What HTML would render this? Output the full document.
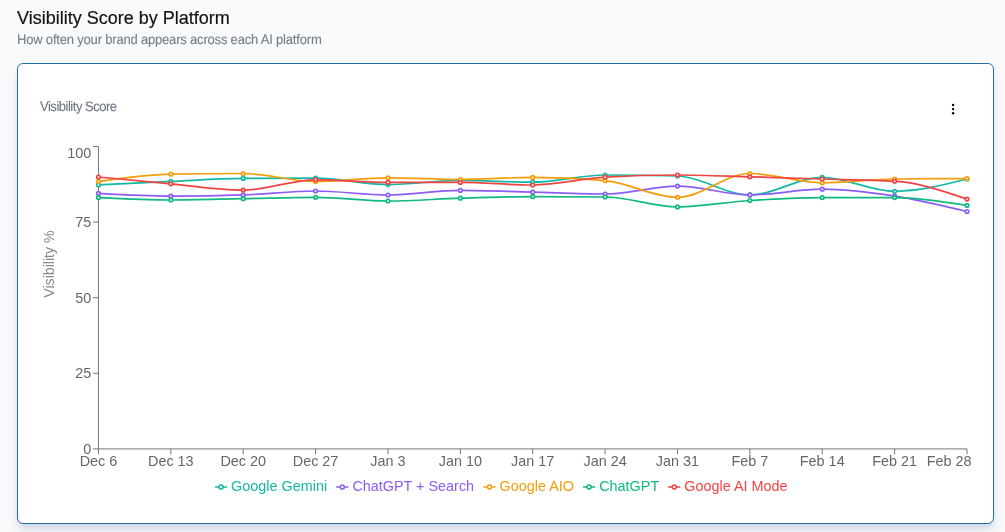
<!DOCTYPE html>
<html lang="en"><head><meta charset="utf-8"><title>Visibility Score by Platform</title>
<style>
html,body{margin:0;padding:0}
body{width:1005px;height:532px;overflow:hidden;background:#f9fafb;font-family:"Liberation Sans",Arial,sans-serif;position:relative}
.title{position:absolute;left:17px;top:7px;font-size:18px;line-height:22px;color:#141414;white-space:nowrap;margin:0;font-weight:400;letter-spacing:0px;-webkit-text-stroke:0.2px currentColor}
.sub{position:absolute;left:17px;top:32.153px;font-size:13.7px;line-height:16px;color:#767c88;white-space:nowrap;margin:0;letter-spacing:-0.2px;-webkit-text-stroke:0.1px currentColor;text-rendering:geometricPrecision;transform:scale(0.95,1.0);transform-origin:0 12.747px}
.card{position:absolute;left:17px;top:63px;width:975px;height:459px;border:1px solid #2471a0;border-radius:6px;background:#fff;box-shadow:0 9px 13.5px -2.7px rgba(37,64,143,0.14),0 3.6px 5.4px -1.8px rgba(37,64,143,0.10)}
.ctitle{position:absolute;left:40px;top:97.153px;font-size:13.7px;line-height:20px;color:#6e7482;white-space:nowrap;letter-spacing:-0.507px;-webkit-text-stroke:0.1px currentColor;text-rendering:geometricPrecision;transform:scale(0.95,1.0);transform-origin:0 14.747px}
svg.chart{position:absolute;left:0;top:0;width:1005px;height:532px;overflow:visible}
svg text{font-family:"Liberation Sans",Arial,sans-serif;font-size:14.4px}
</style></head><body>
<h2 class="title">Visibility Score by Platform</h2>
<p class="sub">How often your brand appears across each AI platform</p>
<div class="card"></div>
<div class="ctitle">Visibility Score</div>
<svg class="chart" width="1005" height="532" viewBox="0 0 1005 532">
<g fill="#000"><circle cx="953.10" cy="104.95" r="1.2"/><circle cx="953.10" cy="109.10" r="1.2"/><circle cx="953.10" cy="113.25" r="1.2"/></g>
<g stroke="#666" stroke-width="0.9" fill="none" shape-rendering="auto"><line x1="98.45" y1="448.90" x2="967.00" y2="448.90"/><line x1="98.45" y1="448.90" x2="98.45" y2="454.30"/><line x1="170.83" y1="448.90" x2="170.83" y2="454.30"/><line x1="243.21" y1="448.90" x2="243.21" y2="454.30"/><line x1="315.59" y1="448.90" x2="315.59" y2="454.30"/><line x1="387.97" y1="448.90" x2="387.97" y2="454.30"/><line x1="460.35" y1="448.90" x2="460.35" y2="454.30"/><line x1="532.72" y1="448.90" x2="532.72" y2="454.30"/><line x1="605.10" y1="448.90" x2="605.10" y2="454.30"/><line x1="677.48" y1="448.90" x2="677.48" y2="454.30"/><line x1="749.86" y1="448.90" x2="749.86" y2="454.30"/><line x1="822.24" y1="448.90" x2="822.24" y2="454.30"/><line x1="894.62" y1="448.90" x2="894.62" y2="454.30"/><line x1="967.00" y1="448.90" x2="967.00" y2="454.30"/><line x1="98.45" y1="146.50" x2="98.45" y2="448.90"/><line x1="93.05" y1="448.90" x2="98.45" y2="448.90"/><line x1="93.05" y1="373.30" x2="98.45" y2="373.30"/><line x1="93.05" y1="297.70" x2="98.45" y2="297.70"/><line x1="93.05" y1="222.10" x2="98.45" y2="222.10"/><line x1="93.05" y1="146.50" x2="98.45" y2="146.50"/></g>
<g fill="#666" text-anchor="middle"><text x="98.45" y="466.30">Dec 6</text><text x="170.83" y="466.30">Dec 13</text><text x="243.21" y="466.30">Dec 20</text><text x="315.59" y="466.30">Dec 27</text><text x="387.97" y="466.30">Jan 3</text><text x="460.35" y="466.30">Jan 10</text><text x="532.72" y="466.30">Jan 17</text><text x="605.10" y="466.30">Jan 24</text><text x="677.48" y="466.30">Jan 31</text><text x="749.86" y="466.30">Feb 7</text><text x="822.24" y="466.30">Feb 14</text><text x="894.62" y="466.30">Feb 21</text><text x="971.60" y="466.30" text-anchor="end">Feb 28</text></g>
<g fill="#666" text-anchor="end"><text x="91.25" y="454.01">0</text><text x="91.25" y="378.41">25</text><text x="91.25" y="302.81">50</text><text x="91.25" y="227.21">75</text><text x="91.25" y="157.90">100</text></g>
<text transform="rotate(-90 53.75 297.70)" x="53.75" y="297.70" fill="#888" style="font-size:14.13px">Visibility %</text>
<g stroke="#14b8a6" stroke-width="1.7" fill="none"><path d="M98.45,184.90C122.58,183.69,146.70,182.48,170.83,181.40C194.96,180.32,219.08,178.53,243.21,178.40C267.33,178.27,291.46,178.20,315.59,178.20C339.71,178.20,363.84,184.60,387.97,184.60C412.09,184.60,436.22,180.40,460.35,180.40C484.47,180.40,508.60,182.20,532.72,182.20C556.85,182.20,580.98,175.00,605.10,175.00C629.23,175.00,653.36,175.33,677.48,176.00C701.61,176.67,725.74,194.90,749.86,194.90C773.99,194.90,798.12,177.40,822.24,177.40C846.37,177.40,870.49,191.30,894.62,191.30C918.75,191.30,942.87,185.15,967.00,179.00" stroke-linejoin="round" stroke-linecap="butt"/><g fill="#fff" stroke-width="1.7"><circle cx="98.45" cy="184.90" r="1.75"/><circle cx="170.83" cy="181.40" r="1.75"/><circle cx="243.21" cy="178.40" r="1.75"/><circle cx="315.59" cy="178.20" r="1.75"/><circle cx="387.97" cy="184.60" r="1.75"/><circle cx="460.35" cy="180.40" r="1.75"/><circle cx="532.72" cy="182.20" r="1.75"/><circle cx="605.10" cy="175.00" r="1.75"/><circle cx="677.48" cy="176.00" r="1.75"/><circle cx="749.86" cy="194.90" r="1.75"/><circle cx="822.24" cy="177.40" r="1.75"/><circle cx="894.62" cy="191.30" r="1.75"/><circle cx="967.00" cy="179.00" r="1.75"/></g></g>
<g stroke="#8b5cf6" stroke-width="1.7" fill="none"><path d="M98.45,193.40C122.58,194.75,146.70,196.10,170.83,196.10C194.96,196.10,219.08,195.70,243.21,194.90C267.33,194.10,291.46,191.00,315.59,191.00C339.71,191.00,363.84,195.00,387.97,195.00C412.09,195.00,436.22,190.40,460.35,190.40C484.47,190.40,508.60,191.60,532.72,192.20C556.85,192.80,580.98,194.00,605.10,194.00C629.23,194.00,653.36,186.10,677.48,186.10C701.61,186.10,725.74,194.90,749.86,194.90C773.99,194.90,798.12,189.20,822.24,189.20C846.37,189.20,870.49,192.38,894.62,196.10C918.75,199.82,942.87,205.66,967.00,211.50" stroke-linejoin="round" stroke-linecap="butt"/><g fill="#fff" stroke-width="1.7"><circle cx="98.45" cy="193.40" r="1.75"/><circle cx="170.83" cy="196.10" r="1.75"/><circle cx="243.21" cy="194.90" r="1.75"/><circle cx="315.59" cy="191.00" r="1.75"/><circle cx="387.97" cy="195.00" r="1.75"/><circle cx="460.35" cy="190.40" r="1.75"/><circle cx="532.72" cy="192.20" r="1.75"/><circle cx="605.10" cy="194.00" r="1.75"/><circle cx="677.48" cy="186.10" r="1.75"/><circle cx="749.86" cy="194.90" r="1.75"/><circle cx="822.24" cy="189.20" r="1.75"/><circle cx="894.62" cy="196.10" r="1.75"/><circle cx="967.00" cy="211.50" r="1.75"/></g></g>
<g stroke="#f59e0b" stroke-width="1.7" fill="none"><path d="M98.45,181.60C122.58,178.13,146.70,174.67,170.83,174.20C194.96,173.73,219.08,173.50,243.21,173.50C267.33,173.50,291.46,181.50,315.59,181.50C339.71,181.50,363.84,177.80,387.97,177.80C412.09,177.80,436.22,179.50,460.35,179.50C484.47,179.50,508.60,177.40,532.72,177.40C556.85,177.40,580.98,178.50,605.10,180.70C629.23,182.90,653.36,197.30,677.48,197.30C701.61,197.30,725.74,173.50,749.86,173.50C773.99,173.50,798.12,182.80,822.24,182.80C846.37,182.80,870.49,179.27,894.62,179.00C918.75,178.73,942.87,178.67,967.00,178.60" stroke-linejoin="round" stroke-linecap="butt"/><g fill="#fff" stroke-width="1.7"><circle cx="98.45" cy="181.60" r="1.75"/><circle cx="170.83" cy="174.20" r="1.75"/><circle cx="243.21" cy="173.50" r="1.75"/><circle cx="315.59" cy="181.50" r="1.75"/><circle cx="387.97" cy="177.80" r="1.75"/><circle cx="460.35" cy="179.50" r="1.75"/><circle cx="532.72" cy="177.40" r="1.75"/><circle cx="605.10" cy="180.70" r="1.75"/><circle cx="677.48" cy="197.30" r="1.75"/><circle cx="749.86" cy="173.50" r="1.75"/><circle cx="822.24" cy="182.80" r="1.75"/><circle cx="894.62" cy="179.00" r="1.75"/><circle cx="967.00" cy="178.60" r="1.75"/></g></g>
<g stroke="#10b981" stroke-width="1.7" fill="none"><path d="M98.45,197.60C122.58,198.80,146.70,200.00,170.83,200.00C194.96,200.00,219.08,199.15,243.21,198.70C267.33,198.25,291.46,197.30,315.59,197.30C339.71,197.30,363.84,201.00,387.97,201.00C412.09,201.00,436.22,198.92,460.35,198.20C484.47,197.48,508.60,196.70,532.72,196.70C556.85,196.70,580.98,196.80,605.10,197.00C629.23,197.20,653.36,206.90,677.48,206.90C701.61,206.90,725.74,202.05,749.86,200.50C773.99,198.95,798.12,197.60,822.24,197.60C846.37,197.60,870.49,197.60,894.62,197.60C918.75,197.60,942.87,201.50,967.00,205.40" stroke-linejoin="round" stroke-linecap="butt"/><g fill="#fff" stroke-width="1.7"><circle cx="98.45" cy="197.60" r="1.75"/><circle cx="170.83" cy="200.00" r="1.75"/><circle cx="243.21" cy="198.70" r="1.75"/><circle cx="315.59" cy="197.30" r="1.75"/><circle cx="387.97" cy="201.00" r="1.75"/><circle cx="460.35" cy="198.20" r="1.75"/><circle cx="532.72" cy="196.70" r="1.75"/><circle cx="605.10" cy="197.00" r="1.75"/><circle cx="677.48" cy="206.90" r="1.75"/><circle cx="749.86" cy="200.50" r="1.75"/><circle cx="822.24" cy="197.60" r="1.75"/><circle cx="894.62" cy="197.60" r="1.75"/><circle cx="967.00" cy="205.40" r="1.75"/></g></g>
<g stroke="#ef4444" stroke-width="1.7" fill="none"><path d="M98.45,177.00C122.58,179.31,146.70,181.62,170.83,183.80C194.96,185.98,219.08,190.10,243.21,190.10C267.33,190.10,291.46,179.80,315.59,179.80C339.71,179.80,363.84,182.40,387.97,182.40C412.09,182.40,436.22,182.40,460.35,182.40C484.47,182.40,508.60,185.00,532.72,185.00C556.85,185.00,580.98,178.67,605.10,177.20C629.23,175.73,653.36,175.00,677.48,175.00C701.61,175.00,725.74,176.13,749.86,176.80C773.99,177.47,798.12,178.27,822.24,179.00C846.37,179.73,870.49,179.73,894.62,181.20C918.75,182.67,942.87,190.88,967.00,199.10" stroke-linejoin="round" stroke-linecap="butt"/><g fill="#fff" stroke-width="1.7"><circle cx="98.45" cy="177.00" r="1.75"/><circle cx="170.83" cy="183.80" r="1.75"/><circle cx="243.21" cy="190.10" r="1.75"/><circle cx="315.59" cy="179.80" r="1.75"/><circle cx="387.97" cy="182.40" r="1.75"/><circle cx="460.35" cy="182.40" r="1.75"/><circle cx="532.72" cy="185.00" r="1.75"/><circle cx="605.10" cy="177.20" r="1.75"/><circle cx="677.48" cy="175.00" r="1.75"/><circle cx="749.86" cy="176.80" r="1.75"/><circle cx="822.24" cy="179.00" r="1.75"/><circle cx="894.62" cy="181.20" r="1.75"/><circle cx="967.00" cy="199.10" r="1.75"/></g></g>
<path stroke="#14b8a6" stroke-width="1.525" fill="none" d="M214.90,487.10h4.07A2.03,2.03,0,1,1,223.03,487.10H227.10M223.03,487.10A2.03,2.03,0,1,1,218.97,487.10"/><text x="231.10" y="491.00" fill="#14b8a6">Google Gemini</text>
<path stroke="#8b5cf6" stroke-width="1.525" fill="none" d="M336.20,487.10h4.07A2.03,2.03,0,1,1,344.33,487.10H348.40M344.33,487.10A2.03,2.03,0,1,1,340.27,487.10"/><text x="352.40" y="491.00" fill="#8b5cf6">ChatGPT + Search</text>
<path stroke="#f59e0b" stroke-width="1.525" fill="none" d="M483.40,487.10h4.07A2.03,2.03,0,1,1,491.53,487.10H495.60M491.53,487.10A2.03,2.03,0,1,1,487.47,487.10"/><text x="499.60" y="491.00" fill="#f59e0b">Google AIO</text>
<path stroke="#10b981" stroke-width="1.525" fill="none" d="M583.00,487.10h4.07A2.03,2.03,0,1,1,591.13,487.10H595.20M591.13,487.10A2.03,2.03,0,1,1,587.07,487.10"/><text x="599.20" y="491.00" fill="#10b981">ChatGPT</text>
<path stroke="#ef4444" stroke-width="1.525" fill="none" d="M668.15,487.10h4.07A2.03,2.03,0,1,1,676.28,487.10H680.35M676.28,487.10A2.03,2.03,0,1,1,672.22,487.10"/><text x="684.35" y="491.00" fill="#ef4444">Google AI Mode</text>
</svg>
</body></html>
